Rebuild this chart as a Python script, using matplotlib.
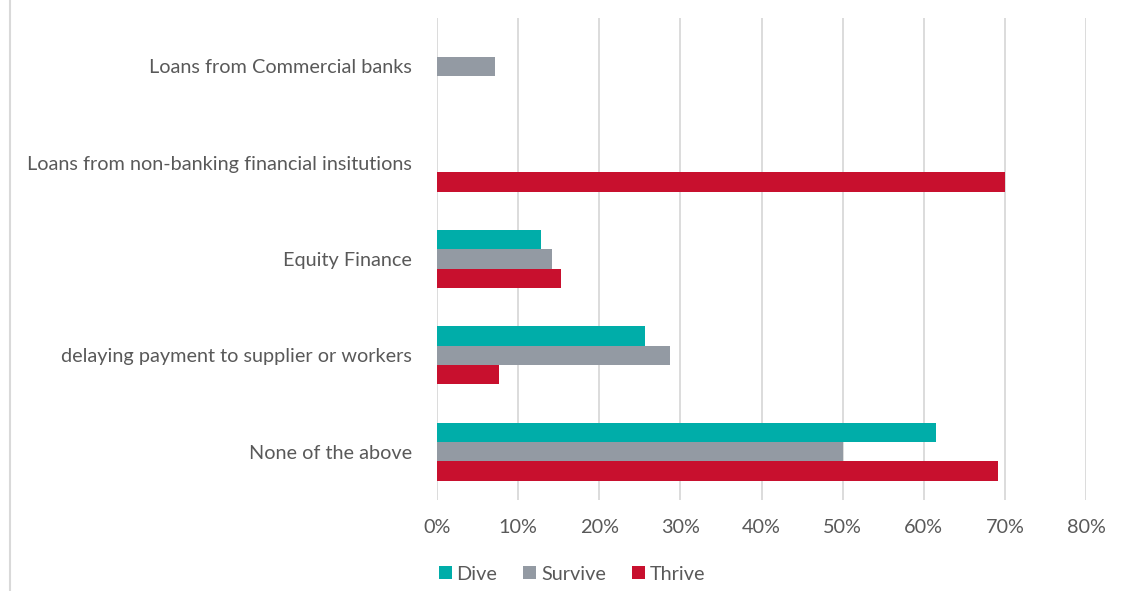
import matplotlib
matplotlib.use("Agg")
import matplotlib.pyplot as plt
import numpy as np
from matplotlib.lines import Line2D

categories = ["Loans from Commercial banks",
              "Loans from non-banking financial insitutions",
              "Equity Finance",
              "delaying payment to supplier or workers",
              "None of the above"]
series_names = ["Dive", "Survive", "Thrive"]
dive = [0.0, 0.0, 0.128, 0.256, 0.615]
survive = [0.071, 0.0, 0.142, 0.287, 0.500]
thrive = [0.0, 0.700, 0.153, 0.077, 0.692]
xticks = [0, 0.1, 0.2, 0.3, 0.4, 0.5, 0.6, 0.7, 0.8]
xtick_labels = ["0%", "10%", "20%", "30%", "40%", "50%", "60%", "70%", "80%"]

colors = ["#00ADA9", "#939AA3", "#C8102E"]
text_color = "#595959"
grid_color = "#D9D9D9"

plt.rcParams['font.family'] = ['Lato', 'DejaVu Sans']

W, H = 1122, 591
fig = plt.figure(figsize=(W / 100, H / 100), dpi=100)
ax = fig.add_axes([437 / W, 1 - 500 / H, (1086 - 437) / W, (500 - 18) / H])

y = np.arange(len(categories))
h = 0.2
for i, (vals, name) in enumerate(zip([dive, survive, thrive], series_names)):
    ax.barh(y + (i - 1) * h, vals, height=h, color=colors[i], label=name,
            linewidth=0, zorder=3)

ax.set_xlim(0, 0.8)
ax.set_ylim(len(categories) - 0.5, -0.5)
ax.set_xticks(xticks)
ax.set_xticklabels(xtick_labels)
ax.set_yticks(y)
ax.set_yticklabels(categories)
ax.tick_params(axis="both", length=0, labelsize=14.3, colors=text_color)
ax.tick_params(axis="x", pad=14)
ax.tick_params(axis="y", pad=18)
ax.grid(axis="x", color=grid_color, linewidth=1.3, zorder=0)
for s in ax.spines.values():
    s.set_visible(False)

fig.add_artist(Line2D([10 / W, 10 / W], [0, 1], color=grid_color, linewidth=1.5,
                      transform=fig.transFigure))

fig.legend(loc="center", bbox_to_anchor=(572 / W, 1 - 574 / H), ncol=3,
           frameon=False, fontsize=14.3, labelcolor=text_color,
           handlelength=0.65, handleheight=0.65, handletextpad=0.25,
           columnspacing=1.3)

fig.savefig("out.png", dpi=100)
